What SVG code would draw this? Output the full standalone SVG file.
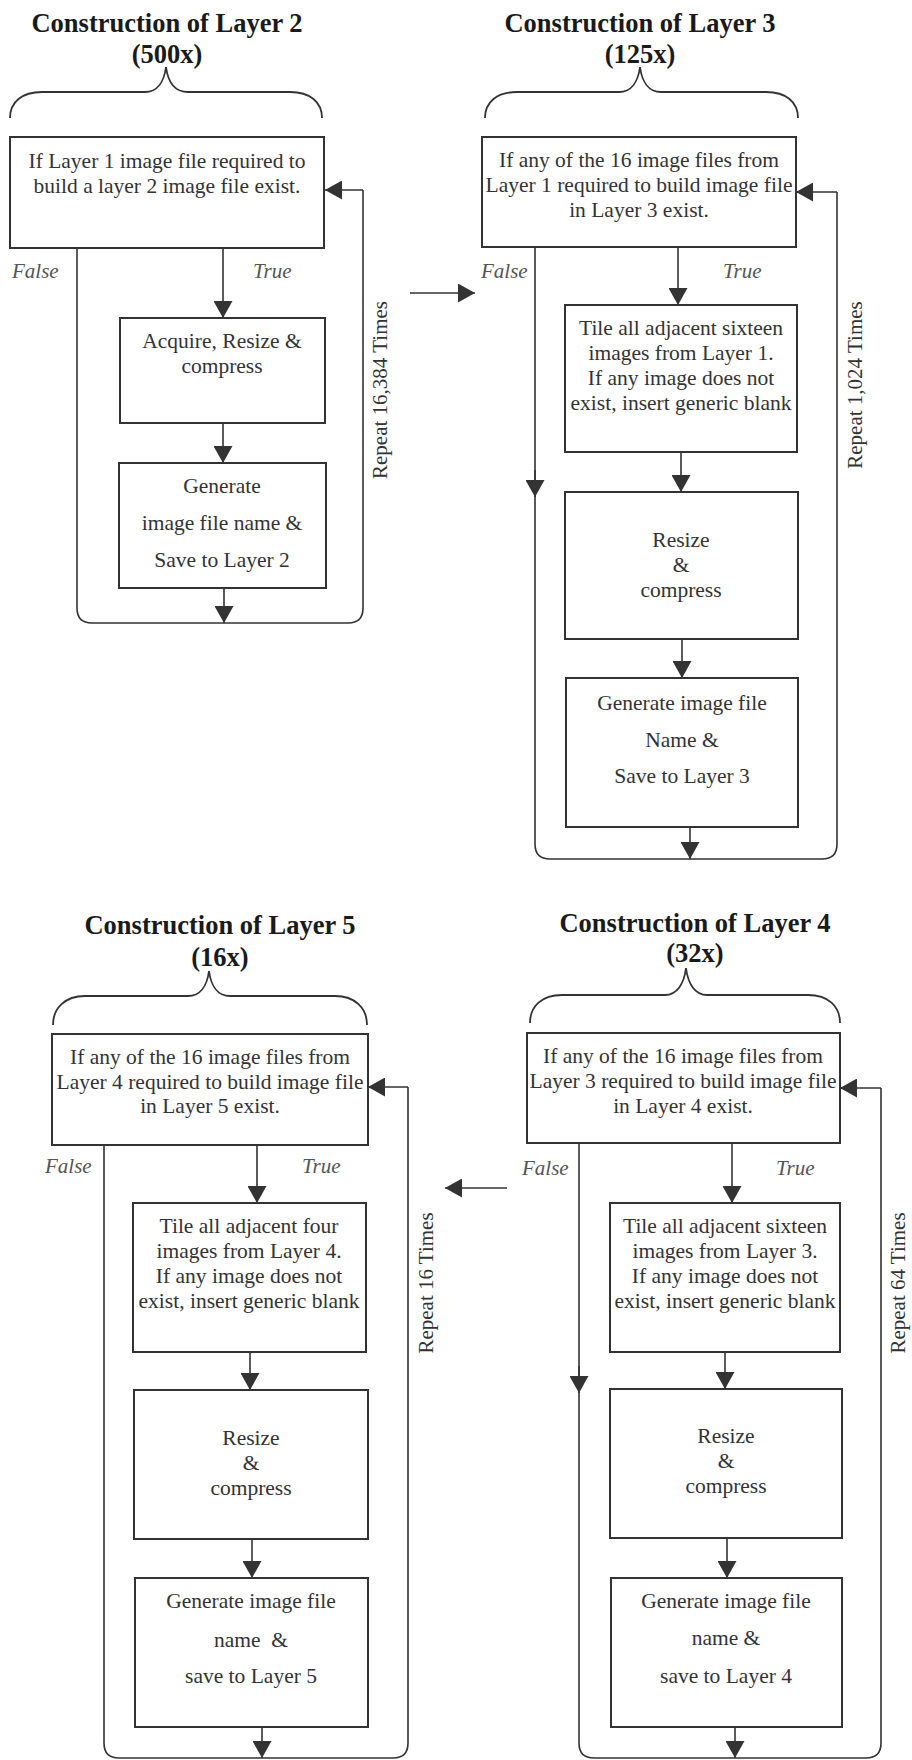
<svg xmlns="http://www.w3.org/2000/svg" width="912" height="1760" viewBox="0 0 912 1760">
  <defs>
    <marker id="ah" viewBox="0 0 17 19" markerWidth="17" markerHeight="19" refX="17" refY="9.5" orient="auto" markerUnits="userSpaceOnUse">
      <path d="M0,0 L17,9.5 L0,19 z" fill="#333"/>
    </marker>
    <style>
      .box { fill: #fff; stroke: #333; stroke-width: 2; }
      .ln { fill: none; stroke: #333; stroke-width: 1.6; }
      .arr { fill: none; stroke: #333; stroke-width: 1.6; marker-end: url(#ah); }
      .brace { fill: none; stroke: #333; stroke-width: 1.8; }
      .t { font-family: "Liberation Serif", "Times New Roman", serif; font-size: 21.5px; fill: #333; text-anchor: middle; }
      .h { font-family: "Liberation Serif", "Times New Roman", serif; font-size: 26.5px; font-weight: bold; fill: #1a1a1a; text-anchor: middle; }
      .lbl { font-family: "Liberation Serif", "Times New Roman", serif; font-size: 21px; font-style: italic; fill: #555; }
      .rep { font-family: "Liberation Serif", "Times New Roman", serif; font-size: 21px; fill: #333; text-anchor: middle; }
    </style>
  </defs>
  <rect width="912" height="1760" fill="#fff"/>

  <!-- connectors -->
  <g id="connectors">
    <!-- Layer 2 loop -->
    <path class="ln" d="M77,248 L77,608 Q77,623 92,623 L348,623 Q363,623 363,608 L363,190"/>
    <path class="arr" d="M363,190 L325,190"/>
    <path class="arr" d="M223,248 L223,318"/>
    <path class="arr" d="M223,423 L223,463"/>
    <path class="arr" d="M224,588 L224,623"/>
    <!-- Layer 2 to Layer 3 -->
    <path class="arr" d="M410,293 L475,293"/>

    <!-- Layer 3 loop -->
    <path class="ln" d="M535,247 L535,844 Q535,859 550,859 L822,859 Q837,859 837,844 L837,192"/>
    <path class="arr" d="M837,192 L796,192"/>
    <path class="arr" d="M535,470 L535,497"/>
    <path class="arr" d="M678,247 L678,305"/>
    <path class="arr" d="M681,452 L681,492"/>
    <path class="arr" d="M682,639 L682,678"/>
    <path class="arr" d="M690,827 L690,859"/>

    <!-- Layer 4 to Layer 5 -->
    <path class="arr" d="M507,1188 L445,1188"/>

    <!-- Layer 5 loop -->
    <path class="ln" d="M104,1145 L104,1743 Q104,1758 119,1758 L393,1758 Q408,1758 408,1743 L408,1087"/>
    <path class="arr" d="M408,1087 L368,1087"/>
    <path class="arr" d="M257,1145 L257,1203"/>
    <path class="arr" d="M250,1352 L250,1390"/>
    <path class="arr" d="M252,1539 L252,1578"/>
    <path class="arr" d="M262,1727 L262,1758"/>

    <!-- Layer 4 loop -->
    <path class="ln" d="M579,1143 L579,1743 Q579,1758 594,1758 L866,1758 Q881,1758 881,1743 L881,1088"/>
    <path class="arr" d="M881,1088 L840,1088"/>
    <path class="arr" d="M579,1366 L579,1393"/>
    <path class="arr" d="M732,1143 L732,1203"/>
    <path class="arr" d="M725,1352 L725,1389"/>
    <path class="arr" d="M727,1538 L727,1578"/>
    <path class="arr" d="M735,1727 L735,1758"/>
  </g>

  <!-- Layer 2 panel -->
  <g id="layer2">
    <text class="h" x="167" y="32">Construction of Layer 2</text>
    <text class="h" x="167" y="63">(500x)</text>
    <path class="brace" d="M10,118 C10,102 22,92 42,92 L145,92 C157,92 164,82 166,67 C168,82 175,92 188,92 L290,92 C310,92 322,102 322,118"/>
    <text class="lbl" x="12" y="278">False</text>
    <text class="lbl" x="253" y="278">True</text>
    <text class="rep" transform="translate(387,390) rotate(-90)">Repeat 16,384 Times</text>
  </g>
  <g id="l2-check">
    <rect class="box" x="10" y="137" width="314" height="111"/>
    <text class="t"><tspan x="167" y="168">If Layer 1 image file required to</tspan><tspan x="167" y="193">build a layer 2 image file exist.</tspan></text>
  </g>
  <g id="l2-acquire">
    <rect class="box" x="120" y="318" width="205" height="105"/>
    <text class="t"><tspan x="222" y="348">Acquire, Resize &amp;</tspan><tspan x="222" y="373">compress</tspan></text>
  </g>
  <g id="l2-save">
    <rect class="box" x="119" y="463" width="207" height="125"/>
    <text class="t"><tspan x="222" y="493">Generate</tspan><tspan x="222" y="530">image file name &amp;</tspan><tspan x="222" y="567">Save to Layer 2</tspan></text>
  </g>

  <!-- Layer 3 panel -->
  <g id="layer3">
    <text class="h" x="640" y="32">Construction of Layer 3</text>
    <text class="h" x="640" y="63">(125x)</text>
    <path class="brace" d="M485,118 C485,102 497,92 517,92 L619,92 C631,92 638,82 640,67 C642,82 649,92 661,92 L766,92 C786,92 798,102 798,118"/>
    <text class="lbl" x="481" y="278">False</text>
    <text class="lbl" x="723" y="278">True</text>
    <text class="rep" transform="translate(862,385) rotate(-90)">Repeat 1,024 Times</text>
  </g>
  <g id="l3-check">
    <rect class="box" x="482" y="137" width="314" height="110"/>
    <text class="t"><tspan x="639" y="167">If any of the 16 image files from</tspan><tspan x="639" y="192">Layer 1 required to build image file</tspan><tspan x="639" y="217">in Layer 3 exist.</tspan></text>
  </g>
  <g id="l3-tile">
    <rect class="box" x="565" y="305" width="232" height="147"/>
    <text class="t"><tspan x="681" y="335">Tile all adjacent sixteen</tspan><tspan x="681" y="360">images from Layer 1.</tspan><tspan x="681" y="385">If any image does not</tspan><tspan x="681" y="410">exist, insert generic blank</tspan></text>
  </g>
  <g id="l3-resize">
    <rect class="box" x="565" y="492" width="233" height="147"/>
    <text class="t"><tspan x="681" y="547">Resize</tspan><tspan x="681" y="572">&amp;</tspan><tspan x="681" y="597">compress</tspan></text>
  </g>
  <g id="l3-save">
    <rect class="box" x="566" y="678" width="232" height="149"/>
    <text class="t"><tspan x="682" y="710">Generate image file</tspan><tspan x="682" y="747">Name &amp;</tspan><tspan x="682" y="783">Save to Layer 3</tspan></text>
  </g>

  <!-- Layer 5 panel -->
  <g id="layer5">
    <text class="h" x="220" y="934">Construction of Layer 5</text>
    <text class="h" x="220" y="966">(16x)</text>
    <path class="brace" d="M53,1025 C53,1008 65,996 85,996 L188,996 C200,996 207,986 209,971 C211,986 218,996 230,996 L335,996 C355,996 367,1008 367,1025"/>
    <text class="lbl" x="45" y="1173">False</text>
    <text class="lbl" x="302" y="1173">True</text>
    <text class="rep" transform="translate(433,1283) rotate(-90)">Repeat 16 Times</text>
  </g>
  <g id="l5-check">
    <rect class="box" x="52" y="1034" width="316" height="111"/>
    <text class="t"><tspan x="210" y="1064">If any of the 16 image files from</tspan><tspan x="210" y="1089">Layer 4 required to build image file</tspan><tspan x="210" y="1113">in Layer 5 exist.</tspan></text>
  </g>
  <g id="l5-tile">
    <rect class="box" x="133" y="1203" width="233" height="149"/>
    <text class="t"><tspan x="249" y="1233">Tile all adjacent four</tspan><tspan x="249" y="1258">images from Layer 4.</tspan><tspan x="249" y="1283">If any image does not</tspan><tspan x="249" y="1308">exist, insert generic blank</tspan></text>
  </g>
  <g id="l5-resize">
    <rect class="box" x="134" y="1390" width="234" height="149"/>
    <text class="t"><tspan x="251" y="1445">Resize</tspan><tspan x="251" y="1470">&amp;</tspan><tspan x="251" y="1495">compress</tspan></text>
  </g>
  <g id="l5-save">
    <rect class="box" x="135" y="1578" width="233" height="149"/>
    <text class="t" xml:space="preserve"><tspan x="251" y="1608">Generate image file</tspan><tspan x="251" y="1647">name  &amp;</tspan><tspan x="251" y="1683">save to Layer 5</tspan></text>
  </g>

  <!-- Layer 4 panel -->
  <g id="layer4">
    <text class="h" x="695" y="932">Construction of Layer 4</text>
    <text class="h" x="695" y="962">(32x)</text>
    <path class="brace" d="M530,1023 C530,1006 542,995 562,995 L665,995 C677,995 684,984 686,968 C688,984 695,995 707,995 L808,995 C828,995 840,1006 840,1023"/>
    <text class="lbl" x="522" y="1175">False</text>
    <text class="lbl" x="776" y="1175">True</text>
    <text class="rep" transform="translate(905,1283) rotate(-90)">Repeat 64 Times</text>
  </g>
  <g id="l4-check">
    <rect class="box" x="527" y="1033" width="313" height="110"/>
    <text class="t"><tspan x="683" y="1063">If any of the 16 image files from</tspan><tspan x="683" y="1088">Layer 3 required to build image file</tspan><tspan x="683" y="1113">in Layer 4 exist.</tspan></text>
  </g>
  <g id="l4-tile">
    <rect class="box" x="610" y="1203" width="230" height="149"/>
    <text class="t"><tspan x="725" y="1233">Tile all adjacent sixteen</tspan><tspan x="725" y="1258">images from Layer 3.</tspan><tspan x="725" y="1283">If any image does not</tspan><tspan x="725" y="1308">exist, insert generic blank</tspan></text>
  </g>
  <g id="l4-resize">
    <rect class="box" x="610" y="1389" width="232" height="149"/>
    <text class="t"><tspan x="726" y="1443">Resize</tspan><tspan x="726" y="1468">&amp;</tspan><tspan x="726" y="1493">compress</tspan></text>
  </g>
  <g id="l4-save">
    <rect class="box" x="611" y="1578" width="231" height="149"/>
    <text class="t"><tspan x="726" y="1608">Generate image file</tspan><tspan x="726" y="1645">name &amp;</tspan><tspan x="726" y="1683">save to Layer 4</tspan></text>
  </g>
</svg>
